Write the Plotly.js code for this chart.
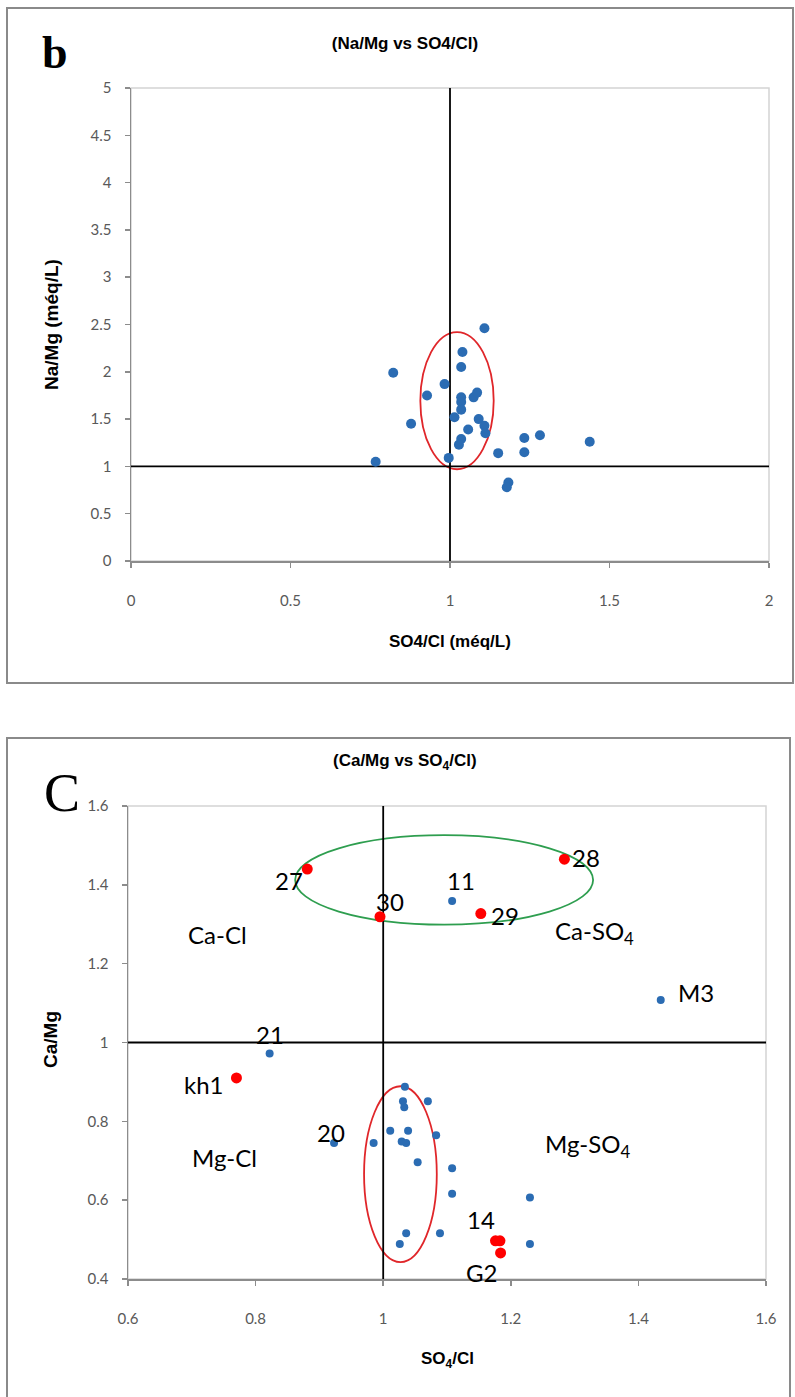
<!DOCTYPE html>
<html>
<head>
<meta charset="utf-8">
<script src="https://cdn.plot.ly/plotly-3.0.1.min.js"></script>
<style>
  html, body { margin: 0; padding: 0; background: #fff; }
  #chart { width: 795px; height: 1397px; }
</style>
</head>
<body>
<div id="chart"></div>
<script>
// ---- Panel b : Na/Mg vs SO4/Cl ----
const naMgSO4Cl = [1.108, 1.039, 1.035, 0.822, 0.983, 0.928, 1.035, 1.035, 1.035, 1.074,
                   1.085, 1.014, 1.090, 1.108, 1.111, 1.057, 0.878, 1.035, 1.028, 0.996,
                   0.767, 1.151, 1.233, 1.233, 1.282, 1.438, 1.183, 1.178];
const naMgRatio = [2.46, 2.21, 2.05, 1.99, 1.87, 1.75, 1.73, 1.68, 1.60, 1.73,
                   1.78, 1.52, 1.50, 1.43, 1.35, 1.39, 1.45, 1.29, 1.23, 1.09,
                   1.05, 1.14, 1.30, 1.15, 1.33, 1.26, 0.83, 0.78];
const bTickX = [0, 0.5, 1, 1.5, 2];
const bTickXText = ['0', '0.5', '1', '1.5', '2'];
const bTickY = [0, 0.5, 1, 1.5, 2, 2.5, 3, 3.5, 4, 4.5, 5];
const bTickYText = ['0', '0.5', '1', '1.5', '2', '2.5', '3', '3.5', '4', '4.5', '5'];
const bRefVertX = [1, 1], bRefVertY = [0, 5];
const bRefHorzX = [0, 2], bRefHorzY = [1, 1];
const bGroupX = [0.907, 1.137], bGroupY = [0.97, 2.42];

// ---- Panel C : Ca/Mg vs SO4/Cl ----
const cBlueSO4Cl = [1.108, 1.435, 0.822, 0.923,
                    0.985, 1.011, 1.034, 1.031, 1.033, 1.070, 1.039, 1.029, 1.036, 1.083,
                    1.054, 1.108, 1.108, 1.230, 1.036, 1.026, 1.089, 1.230];
const cBlueCaMg  = [1.359, 1.108, 0.972, 0.745,
                    0.745, 0.776, 0.888, 0.851, 0.836, 0.851, 0.776, 0.749, 0.745, 0.765,
                    0.696, 0.681, 0.616, 0.607, 0.516, 0.489, 0.516, 0.489];
const cBlueNames = ['11', 'M3', '21', '20',
                    '', '', '', '', '', '', '', '', '', '',
                    '', '', '', '', '', '', '', ''];
const cRedSO4Cl = [0.881, 1.284, 0.995, 1.153, 0.770, 1.176, 1.183, 1.184];
const cRedCaMg  = [1.440, 1.465, 1.319, 1.327, 0.910, 0.497, 0.497, 0.466];
const cRedNames = ['27', '28', '30', '29', 'kh1', '14', '', 'G2'];
const cTickX = [0.6, 0.8, 1, 1.2, 1.4, 1.6];
const cTickXText = ['0.6', '0.8', '1', '1.2', '1.4', '1.6'];
const cTickY = [0.4, 0.6, 0.8, 1, 1.2, 1.4, 1.6];
const cTickYText = ['0.4', '0.6', '0.8', '1', '1.2', '1.4', '1.6'];
const cRefVertX = [1, 1], cRefVertY = [0.4, 1.6];
const cRefHorzX = [0.6, 1.6], cRefHorzY = [1, 1];
const cCaGroupX = [0.862, 1.329], cCaGroupY = [1.299, 1.526];
const cMgGroupX = [0.970, 1.084], cMgGroupY = [0.443, 0.889];
const facieNames = ['Ca-Cl', 'Ca-SO<sub>4</sub>', 'Mg-Cl', 'Mg-SO<sub>4</sub>'];
const facieX = [0.741, 1.331, 0.752, 1.321];
const facieY = [1.275, 1.278, 0.707, 0.738];

// label offsets (px) for the numbered sampling points
const labelShift = {
  '11': [9, 20], 'M3': [35, 7], '21': [0, 19], '20': [-3, 11],
  '27': [-18, -11], '28': [22, 2], '30': [10, 15], '29': [24, -2],
  'kh1': [-32, -7], '14': [-14, 21], 'G2': [-19, -20]
};

// ---- page geometry ----
const W = 795, H = 1397;
const fx = p => p / W;
const fy = p => 1 - p / H;

const BLUE = '#2b6cb3', RED = '#ff0000', GREEN = '#2e9e4f';
const AXIS = '#8c8c8c', FRAME = '#d4d4d4';
const tickFont = {family: 'Lato, Carlito, sans-serif', size: 15, color: '#595959'};
const boldFont = {family: '"Liberation Sans", Arial, sans-serif', size: 17, color: '#000', weight: 700};
const sideFont = {family: '"Liberation Sans", Arial, sans-serif', size: 19, color: '#000', weight: 700};
const labelFont = {family: 'Lato, Carlito, sans-serif', size: 24, color: '#000'};

function refLine(x, y, xa, ya) {
  return {x: x, y: y, xaxis: xa, yaxis: ya, mode: 'lines', type: 'scatter',
          line: {color: '#000', width: 1.8}, hoverinfo: 'skip', showlegend: false};
}

const traces = [
  refLine(bRefVertX, bRefVertY, 'x', 'y'),
  refLine(bRefHorzX, bRefHorzY, 'x', 'y'),
  {x: naMgSO4Cl, y: naMgRatio, xaxis: 'x', yaxis: 'y', mode: 'markers', type: 'scatter',
   marker: {color: BLUE, size: 10}, showlegend: false},
  refLine(cRefVertX, cRefVertY, 'x2', 'y2'),
  refLine(cRefHorzX, cRefHorzY, 'x2', 'y2'),
  {x: cBlueSO4Cl, y: cBlueCaMg, xaxis: 'x2', yaxis: 'y2', mode: 'markers', type: 'scatter',
   marker: {color: BLUE, size: 8}, text: cBlueNames, showlegend: false},
  {x: cRedSO4Cl, y: cRedCaMg, xaxis: 'x2', yaxis: 'y2', mode: 'markers', type: 'scatter',
   marker: {color: RED, size: 11}, text: cRedNames, showlegend: false}
];

function axisBase(extra) {
  return Object.assign({
    showline: true, linecolor: AXIS, linewidth: 1.5,
    ticks: 'outside', ticklen: 5, tickwidth: 1.5, tickcolor: AXIS,
    showgrid: false, zeroline: false, tickfont: tickFont,
    tickmode: 'array', fixedrange: true
  }, extra);
}
// inside half of the crossing tick marks
function innerTicks(extra) {
  return Object.assign({
    showline: false, ticks: 'inside', ticklen: 5, tickwidth: 1.5, tickcolor: AXIS,
    showgrid: false, zeroline: false, showticklabels: false, tickmode: 'array', fixedrange: true
  }, extra);
}

const bDomX = [fx(131), fx(769)], bDomY = [fy(561), fy(88)];
const cDomX = [fx(128), fx(766)], cDomY = [fy(1279), fy(806)];

const shapes = [
  // panel frames
  {type: 'rect', xref: 'paper', yref: 'paper', x0: fx(7), x1: fx(793), y0: fy(683), y1: fy(8),
   line: {color: '#8a8a8a', width: 2}, layer: 'below'},
  {type: 'rect', xref: 'paper', yref: 'paper', x0: fx(7), x1: fx(790), y0: -0.01, y1: fy(738),
   line: {color: '#8a8a8a', width: 2}, layer: 'below'},
  // plot-area borders
  {type: 'rect', xref: 'x domain', yref: 'y domain', x0: 0, x1: 1, y0: 0, y1: 1,
   line: {color: FRAME, width: 1.5}, layer: 'below'},
  {type: 'rect', xref: 'x2 domain', yref: 'y2 domain', x0: 0, x1: 1, y0: 0, y1: 1,
   line: {color: FRAME, width: 1.5}, layer: 'below'},
  // groupings
  {type: 'circle', xref: 'x', yref: 'y', x0: bGroupX[0], x1: bGroupX[1], y0: bGroupY[0], y1: bGroupY[1],
   line: {color: '#e0262a', width: 1.8}, layer: 'below'},
  {type: 'circle', xref: 'x2', yref: 'y2', x0: cCaGroupX[0], x1: cCaGroupX[1], y0: cCaGroupY[0], y1: cCaGroupY[1],
   line: {color: GREEN, width: 1.8}, layer: 'below'},
  {type: 'circle', xref: 'x2', yref: 'y2', x0: cMgGroupX[0], x1: cMgGroupX[1], y0: cMgGroupY[0], y1: cMgGroupY[1],
   line: {color: '#e0262a', width: 1.8}, layer: 'below'}
];

function paperText(x, y, text, font, angle) {
  return {xref: 'paper', yref: 'paper', x: fx(x), y: fy(y), text: text, showarrow: false,
          xanchor: 'center', yanchor: 'middle', textangle: angle || 0, font: font};
}

const annotations = [
  paperText(55, 52, 'b', {family: '"Liberation Serif", "Times New Roman", serif', size: 46, color: '#000', weight: 700}),
  paperText(62, 793, 'C', {family: '"Liberation Serif", "Times New Roman", serif', size: 54, color: '#000'}),
  paperText(450, 641, 'SO4/Cl (méq/L)', boldFont),
  paperText(51, 325, 'Na/Mg (méq/L)', sideFont, -90),
  paperText(405, 762, '(Ca/Mg vs SO<sub>4</sub>/Cl)', boldFont),
  paperText(447, 1360, 'SO<sub>4</sub>/Cl', boldFont),
  paperText(50, 1040, 'Ca/Mg', sideFont, -90)
];

facieNames.forEach((t, i) => annotations.push({
  xref: 'x2', yref: 'y2', x: facieX[i], y: facieY[i], text: t, showarrow: false,
  xanchor: 'center', yanchor: 'middle', font: labelFont
}));

function pointLabels(xs, ys, names) {
  names.forEach((n, i) => {
    if (!n) return;
    const s = labelShift[n];
    annotations.push({xref: 'x2', yref: 'y2', x: xs[i], y: ys[i], text: n, showarrow: false,
                      xanchor: 'center', yanchor: 'middle',
                      xshift: s[0], yshift: s[1], font: labelFont});
  });
}
pointLabels(cBlueSO4Cl, cBlueCaMg, cBlueNames);
pointLabels(cRedSO4Cl, cRedCaMg, cRedNames);

const layout = {
  width: W, height: H,
  margin: {l: 0, r: 0, t: 0, b: 0},
  paper_bgcolor: '#fff', plot_bgcolor: 'rgba(0,0,0,0)',
  showlegend: false,
  title: {text: '(Na/Mg vs SO4/Cl)', font: boldFont, x: fx(405), xanchor: 'center',
          y: fy(43), yanchor: 'middle', xref: 'paper', yref: 'paper'},
  xaxis: axisBase({domain: bDomX, anchor: 'y', range: [0, 2], tickvals: bTickX, ticktext: bTickXText, ticklabelstandoff: 20}),
  yaxis: axisBase({domain: bDomY, anchor: 'x', range: [0, 5], tickvals: bTickY, ticktext: bTickYText, ticklabelstandoff: 10}),
  xaxis2: axisBase({domain: cDomX, anchor: 'y2', range: [0.6, 1.6], tickvals: cTickX, ticktext: cTickXText, ticklabelstandoff: 20}),
  yaxis2: axisBase({domain: cDomY, anchor: 'x2', range: [0.4, 1.6], tickvals: cTickY, ticktext: cTickYText, ticklabelstandoff: 10}),
  xaxis3: innerTicks({overlaying: 'x', anchor: 'y', range: [0, 2], tickvals: bTickX}),
  yaxis3: innerTicks({overlaying: 'y', anchor: 'x', range: [0, 5], tickvals: bTickY}),
  xaxis4: innerTicks({overlaying: 'x2', anchor: 'y2', range: [0.6, 1.6], tickvals: cTickX}),
  yaxis4: innerTicks({overlaying: 'y2', anchor: 'x2', range: [0.4, 1.6], tickvals: cTickY}),
  shapes: shapes,
  annotations: annotations
};

Plotly.newPlot('chart', traces, layout, {staticPlot: true, displayModeBar: false});
</script>
</body>
</html>
